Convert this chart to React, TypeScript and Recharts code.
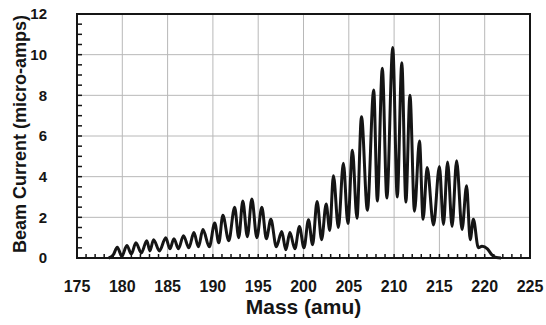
import React from 'react';
import {
    LineChart,
    Line,
    XAxis,
    YAxis,
    CartesianGrid,
} from 'recharts';

// Scan points (mass in amu, beam current in micro-amps), peaks and valleys
const massAmu = [
    178.5, 179.0, 179.45, 179.95, 180.5, 181.0, 181.5, 182.1, 182.7, 183.05,
    183.45, 184.1, 184.8, 185.25, 185.7, 186.2, 186.75, 187.35, 187.9, 188.4,
    188.9, 189.6, 190.2, 190.65, 191.1, 191.75, 192.4, 192.85, 193.3, 193.8,
    194.3, 194.85, 195.4, 195.9, 196.4, 197.0, 197.6, 198.05, 198.5, 199.05,
    199.55, 200.05, 200.55, 201.0, 201.5, 202.0, 202.5, 202.9, 203.3, 203.85,
    204.4, 204.9, 205.4, 205.9, 206.4, 207.05, 207.75, 208.15, 208.7, 209.2,
    209.85, 210.35, 210.85, 211.3, 211.75, 212.25, 212.8, 213.2, 213.65, 214.35,
    215.0, 215.45, 215.9, 216.4, 216.9, 217.5, 218.0, 218.4, 218.75, 219.3,
    219.7, 220.3, 220.8, 221.3, 221.8,
];

const beamCurrent = [
    0, 0.15, 0.53, 0.08, 0.62, 0.2, 0.75, 0.25, 0.85, 0.35,
    0.9, 0.35, 1.0, 0.45, 0.95, 0.45, 1.1, 0.5, 1.25, 0.55,
    1.4, 0.55, 1.72, 0.75, 2.1, 0.85, 2.5, 1.0, 2.8, 1.05,
    2.9, 1.0, 2.5, 0.95, 1.9, 0.55, 1.3, 0.4, 1.25, 0.45,
    1.55, 0.5, 1.88, 0.65, 2.78, 0.9, 2.65, 1.35, 4.05, 1.5,
    4.66, 1.7, 5.3, 1.95, 6.95, 2.35, 8.26, 2.8, 9.33, 2.95,
    10.35, 3.0, 9.6, 2.75, 8.0, 2.3, 5.75, 1.9, 4.45, 1.62,
    4.5, 1.65, 4.72, 1.55, 4.78, 1.4, 3.55, 0.9, 1.9, 0.5,
    0.58, 0.45, 0.15, 0.02, 0,
];

const massLabels = [175, 180, 185, 190, 195, 200, 205, 210, 215, 220, 225];
const currentLabels = [0, 2, 4, 6, 8, 10, 12];
const massMinorTicks = Array.from({ length: 51 }, (_, i) => 175 + i);
const currentMinorTicks = Array.from({ length: 25 }, (_, i) => i * 0.5);

const scan = massAmu.map((m, i) => ({ mass: m, current: beamCurrent[i] }));

const font = '"Liberation Sans", Arial, sans-serif';
const ink = '#151515';

// chart geometry, shared by the chart and the frame overlay
const W = 546;
const H = 325;
const margin = { top: 14, right: 16, bottom: 0, left: 0 };
const Y_AXIS_W = 77;
const X_AXIS_H = 67;
const plotLeft = margin.left + Y_AXIS_W;
const plotTop = margin.top;
const plotW = W - plotLeft - margin.right;
const plotH = H - plotTop - margin.bottom - X_AXIS_H;
const sx = (m: number) => plotLeft + ((m - 175) / 50) * plotW;
const sy = (c: number) => plotTop + plotH - (c / 12) * plotH;

// black box with inward minor ticks
const FrameOverlay = () => (
    <svg
        width={W}
        height={H}
        style={{ position: 'absolute', left: 0, top: 0, pointerEvents: 'none' }}
    >
        {massMinorTicks.map((m) => (
            <line key={`x${m}`} x1={sx(m)} y1={sy(0)} x2={sx(m)} y2={sy(0) - 4} stroke={ink} strokeWidth={1.5} />
        ))}
        {currentMinorTicks.map((c) => (
            <line key={`y${c}`} x1={sx(175)} y1={sy(c)} x2={sx(175) + 5} y2={sy(c)} stroke={ink} strokeWidth={1.5} />
        ))}
        <rect x={plotLeft} y={plotTop} width={plotW} height={plotH} fill="none" stroke={ink} strokeWidth={2} />
    </svg>
);

export default function App() {
    return (
        <div style={{ position: 'absolute', left: 0, top: 0, width: W, height: H, background: '#fff' }}>
            <LineChart width={W} height={H} data={scan} margin={margin}>
                <CartesianGrid
                    stroke="#b8b8b8"
                    strokeWidth={1}
                    verticalValues={massLabels}
                    horizontalValues={currentLabels}
                />
                <XAxis
                    dataKey="mass"
                    type="number"
                    domain={[175, 225]}
                    ticks={massLabels}
                    interval={0}
                    height={X_AXIS_H}
                    axisLine={false}
                    tickLine={false}
                    tickMargin={17}
                    tick={{ fill: ink, fontSize: 16, fontWeight: 700, fontFamily: font }}
                    label={{
                        value: 'Mass (amu)',
                        position: 'insideBottom',
                        offset: 11,
                        fill: ink,
                        fontSize: 21,
                        fontWeight: 700,
                        fontFamily: font,
                    }}
                />
                <YAxis
                    type="number"
                    domain={[0, 12]}
                    ticks={currentLabels}
                    interval={0}
                    width={Y_AXIS_W}
                    axisLine={false}
                    tickLine={false}
                    tickMargin={24}
                    tick={{ fill: ink, fontSize: 15, fontWeight: 700, fontFamily: font }}
                    label={{
                        value: 'Beam Current (micro-amps)',
                        angle: -90,
                        position: 'center',
                        dx: -19,
                        dy: -2,
                        fill: ink,
                        fontSize: 18,
                        fontWeight: 700,
                        fontFamily: font,
                    }}
                />
                <Line
                    type="monotone"
                    dataKey="current"
                    stroke={ink}
                    strokeWidth={3}
                    dot={false}
                    isAnimationActive={false}
                />
            </LineChart>
            <FrameOverlay />
        </div>
    );
}
